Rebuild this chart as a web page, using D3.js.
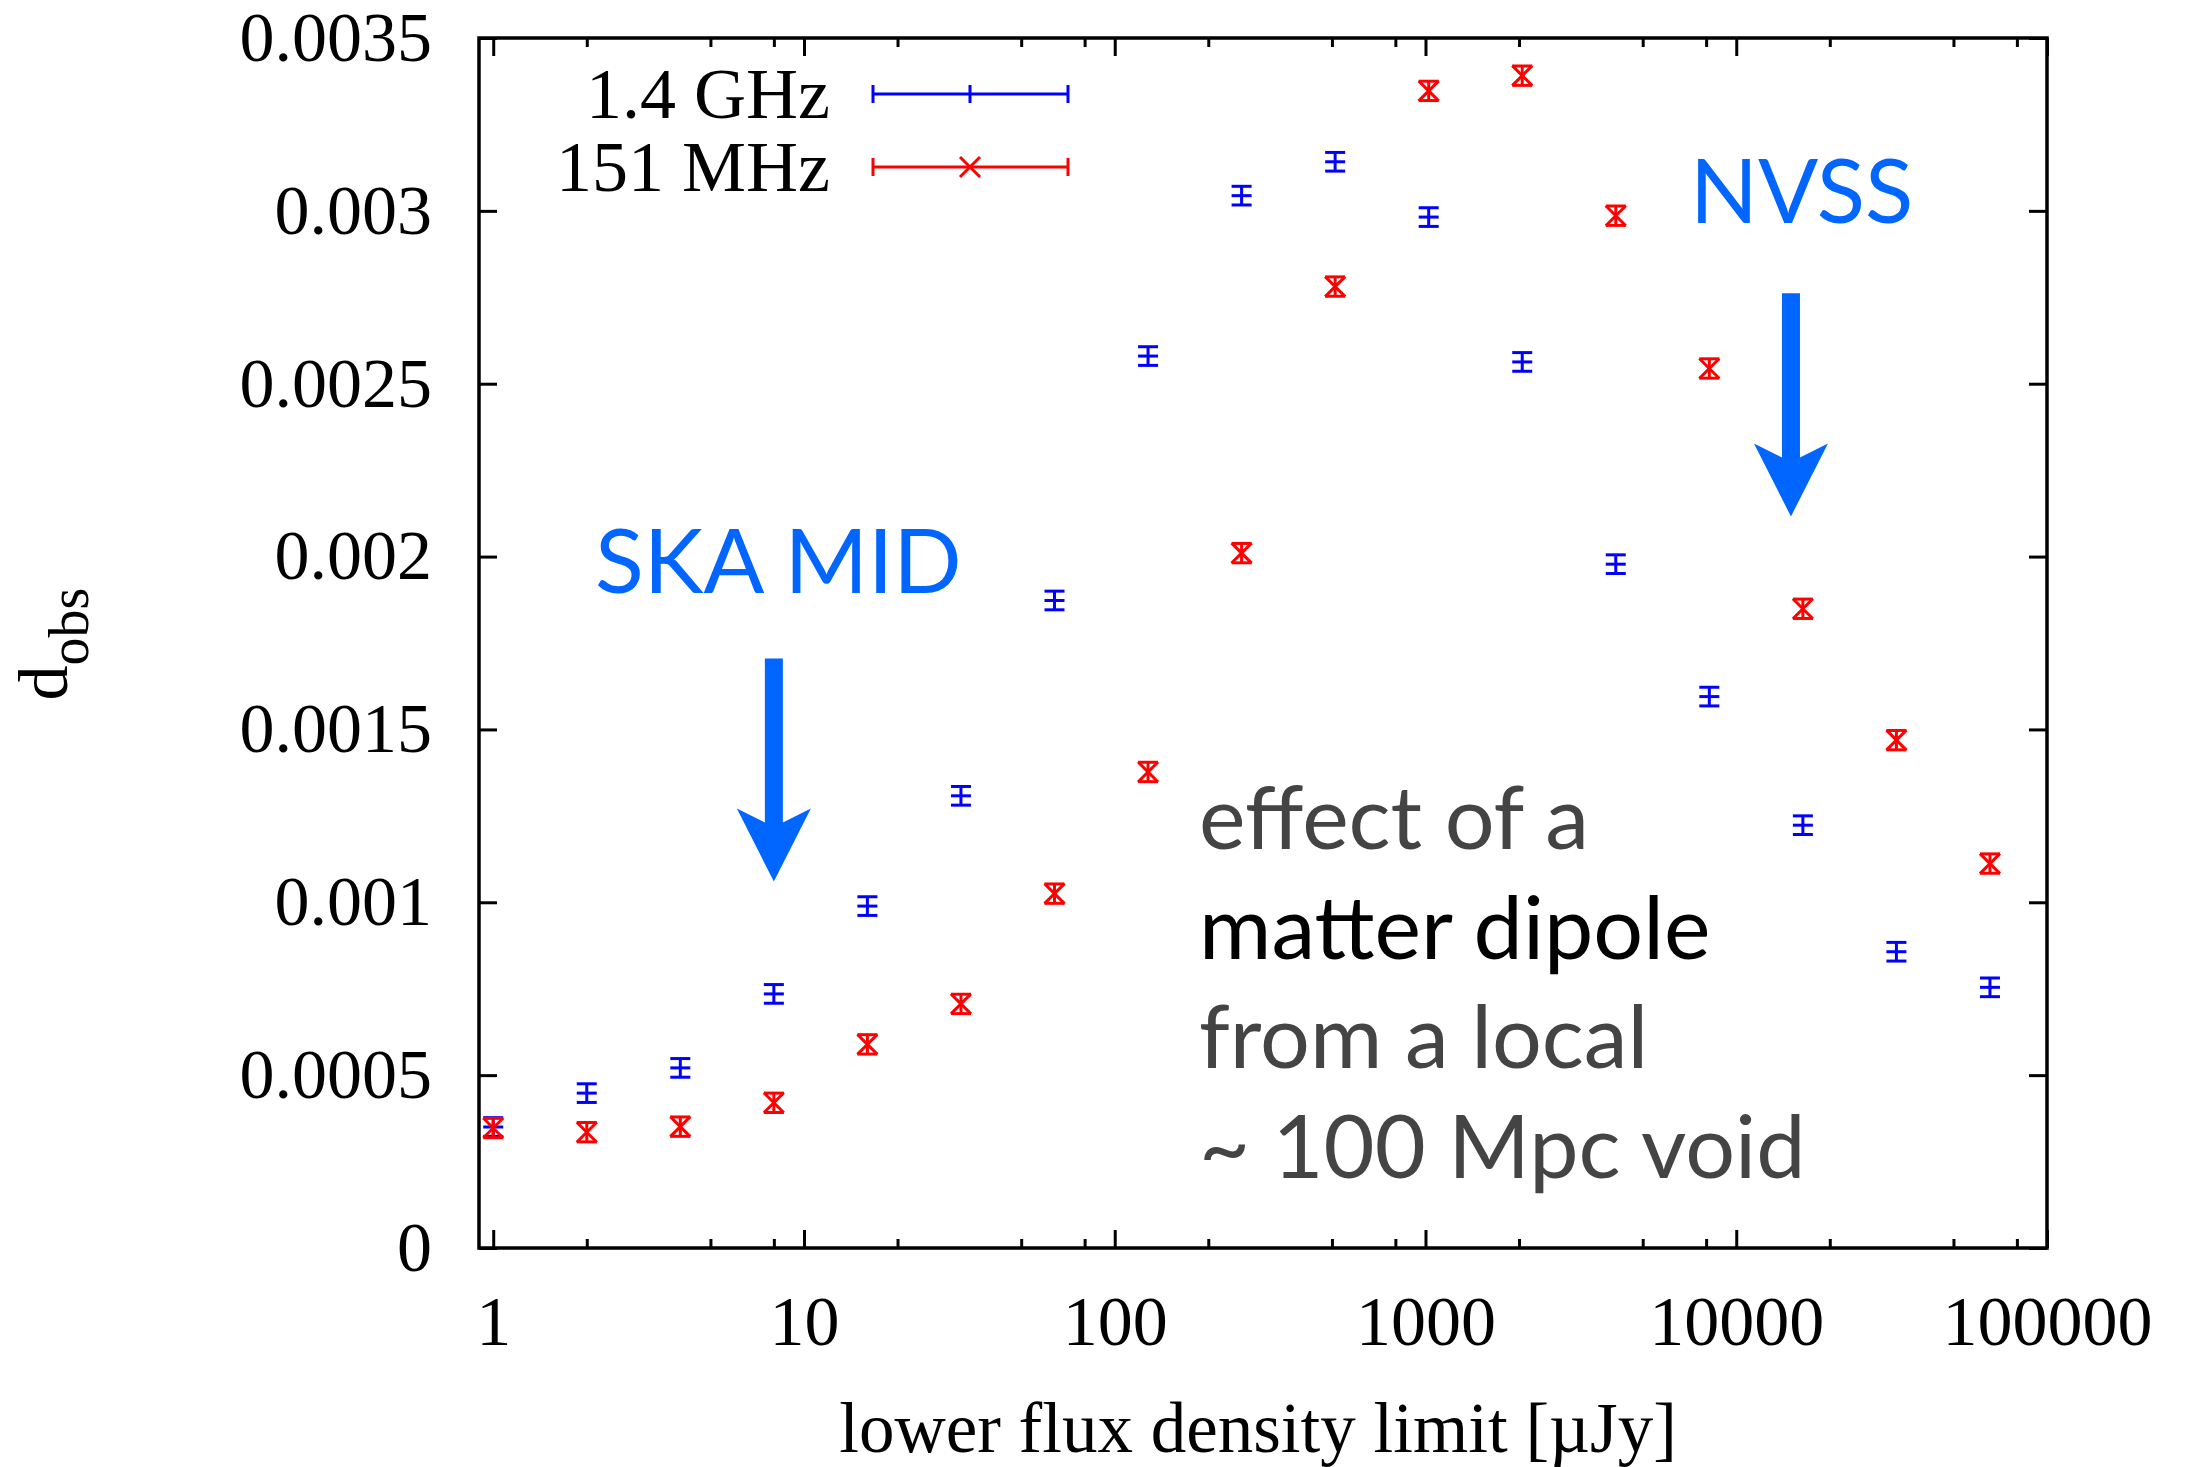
<!DOCTYPE html>
<html>
<head>
<meta charset="utf-8">
<script src="https://cdn.jsdelivr.net/npm/d3@7"></script>
<style>
  body { margin: 0; background: #fff; }
  svg { display: block; }
</style>
</head>
<body>
<svg id="chart" width="2187" height="1467"></svg>
<script>
// flux limits (µJy) and measured dipole amplitudes
const fluxLimits = [1, 2, 4, 8, 16, 32, 64, 128, 256, 512, 1024, 2048, 4096, 8192, 16384, 32768, 65536];
const dipole14GHz = [0.000350, 0.000448, 0.000521, 0.000735, 0.000989, 0.001308, 0.001873, 0.002580, 0.003044, 0.003142, 0.002982, 0.002563, 0.001978, 0.001595, 0.001223, 0.000857, 0.000754];
const err14GHz = [0.000027, 0.000027, 0.000027, 0.000027, 0.000027, 0.000027, 0.000027, 0.000027, 0.000027, 0.000027, 0.000027, 0.000027, 0.000027, 0.000027, 0.000027, 0.000027, 0.000027];
const dipole151MHz = [0.000347, 0.000335, 0.000351, 0.000420, 0.000589, 0.000706, 0.001025, 0.001377, 0.002010, 0.002781, 0.003347, 0.003391, 0.002986, 0.002544, 0.001849, 0.001469, 0.001112];
const err151MHz = [0.000028, 0.000028, 0.000028, 0.000028, 0.000028, 0.000028, 0.000028, 0.000028, 0.000028, 0.000028, 0.000028, 0.000028, 0.000028, 0.000028, 0.000028, 0.000028, 0.000028];

const xTicks = [1, 10, 100, 1000, 10000, 100000];
const xTickLabels = ["1", "10", "100", "1000", "10000", "100000"];
const xMinorTicks = [2, 5, 8, 20, 50, 80, 200, 500, 800, 2000, 5000, 8000, 20000, 50000, 80000];
const yTicks = [0, 0.0005, 0.001, 0.0015, 0.002, 0.0025, 0.003, 0.0035];
const yTickLabels = ["0", "0.0005", "0.001", "0.0015", "0.002", "0.0025", "0.003", "0.0035"];

const svg = d3.select("#chart");
const margin = { left: 479, right: 140, top: 38, bottom: 219 };
const width = 2187 - margin.left - margin.right;
const height = 1467 - margin.top - margin.bottom;

const xScale = d3.scaleLog().domain([0.9, 100000]).range([0, width]);
const yScale = d3.scaleLinear().domain([0, 0.0035]).range([height, 0]);

const g = svg.append("g").attr("transform", "translate(" + margin.left + "," + margin.top + ")");

const serif = "'Liberation Serif', 'Times New Roman', serif";
const sans = "Lato, 'Open Sans', sans-serif";
const annBlue = "#0066ff";

// axes (ticks pointing inward, mirrored on top and right)
function styleAxis(sel) {
  sel.select(".domain").remove();
  sel.selectAll(".tick line").attr("stroke", "#000").attr("stroke-width", 3);
  sel.selectAll(".tick text").attr("font-family", serif).attr("font-size", "70px").attr("fill", "#000");
}

g.append("g")
  .attr("transform", "translate(0," + height + ")")
  .call(d3.axisBottom(xScale).tickValues(xTicks).tickSizeInner(-18).tickSizeOuter(0).tickPadding(47)
    .tickFormat((d, i) => xTickLabels[i]))
  .call(styleAxis);
g.append("g")
  .attr("transform", "translate(0," + height + ")")
  .call(d3.axisBottom(xScale).tickValues(xMinorTicks).tickSizeInner(-9).tickSizeOuter(0).tickFormat(""))
  .call(styleAxis);
g.append("g")
  .call(d3.axisTop(xScale).tickValues(xTicks).tickSizeInner(-18).tickSizeOuter(0).tickFormat(""))
  .call(styleAxis);
g.append("g")
  .call(d3.axisTop(xScale).tickValues(xMinorTicks).tickSizeInner(-9).tickSizeOuter(0).tickFormat(""))
  .call(styleAxis);

g.append("g")
  .call(d3.axisLeft(yScale).tickValues(yTicks).tickSizeInner(-18).tickSizeOuter(0).tickPadding(47)
    .tickFormat((d, i) => yTickLabels[i]))
  .call(styleAxis);
g.append("g")
  .attr("transform", "translate(" + width + ",0)")
  .call(d3.axisRight(yScale).tickValues(yTicks).tickSizeInner(-18).tickSizeOuter(0).tickFormat(""))
  .call(styleAxis);

g.append("rect")
  .attr("width", width)
  .attr("height", height)
  .attr("fill", "none")
  .attr("stroke", "#000")
  .attr("stroke-width", 3.5);

// annotations
function arrow(xv, yTop, yTip, color) {
  const cx = xScale(xv), y0 = yScale(yTop), y1 = yScale(yTip);
  const hw = 9, barb = 37, headLen = 73, notch = 14;
  const yb = y1 - headLen;
  const pts = [
    [cx - hw, y0], [cx + hw, y0], [cx + hw, yb + notch], [cx + barb, yb],
    [cx, y1], [cx - barb, yb], [cx - hw, yb + notch]
  ];
  g.append("path").attr("d", d3.line()(pts) + "Z").attr("fill", color);
}
arrow(8, 0.001705, 0.00106, annBlue);
arrow(15000, 0.002762, 0.002116, annBlue);

svg.append("text").attr("x", 595).attr("y", 593)
  .attr("font-family", sans).attr("font-size", "90px").attr("fill", annBlue).text("SKA MID");
svg.append("text").attr("x", 1690).attr("y", 223)
  .attr("font-family", sans).attr("font-size", "89px").attr("fill", annBlue).text("NVSS");

const noteLines = [
  { t: "effect of a", y: 849, c: "#444" },
  { t: "matter dipole", y: 959, c: "#000" },
  { t: "from a local", y: 1068, c: "#444" },
  { t: "~ 100 Mpc void", y: 1178, c: "#444" }
];
svg.selectAll(".note").data(noteLines).enter().append("text")
  .attr("class", "note")
  .attr("x", 1199).attr("y", d => d.y)
  .attr("font-family", sans).attr("font-size", "88px").attr("fill", d => d.c)
  .text(d => d.t);

// data points with error bars
const capW = 10, markSize = 10;
function drawSeries(vals, errs, color, marker) {
  const pts = g.selectAll(null).data(fluxLimits.map((x, i) => ({ x: x, y: vals[i], e: errs[i] })))
    .enter().append("g")
    .attr("transform", d => "translate(" + xScale(d.x) + ",0)")
    .attr("stroke", color).attr("stroke-width", 3).attr("fill", "none");
  pts.append("line").attr("x1", 0).attr("x2", 0)
    .attr("y1", d => yScale(d.y - d.e)).attr("y2", d => yScale(d.y + d.e));
  pts.append("line").attr("x1", -capW).attr("x2", capW)
    .attr("y1", d => yScale(d.y - d.e)).attr("y2", d => yScale(d.y - d.e));
  pts.append("line").attr("x1", -capW).attr("x2", capW)
    .attr("y1", d => yScale(d.y + d.e)).attr("y2", d => yScale(d.y + d.e));
  if (marker === "plus") {
    pts.append("line").attr("x1", -markSize).attr("x2", markSize)
      .attr("y1", d => yScale(d.y)).attr("y2", d => yScale(d.y));
  } else {
    pts.append("path").attr("d", d => {
      const cy = yScale(d.y);
      return "M" + (-markSize) + "," + (cy - markSize) + "L" + markSize + "," + (cy + markSize) +
        "M" + (-markSize) + "," + (cy + markSize) + "L" + markSize + "," + (cy - markSize);
    });
  }
}
drawSeries(dipole14GHz, err14GHz, "#0000ff", "plus");
drawSeries(dipole151MHz, err151MHz, "#ff0000", "cross");

// legend
const legend = [
  { label: "1.4 GHz", color: "#0000ff", marker: "plus", y: 94 },
  { label: "151 MHz", color: "#ff0000", marker: "cross", y: 167 }
];
legend.forEach(l => {
  const lg = svg.append("g").attr("stroke", l.color).attr("stroke-width", 3).attr("fill", "none");
  lg.append("line").attr("x1", 873).attr("x2", 1068).attr("y1", l.y).attr("y2", l.y);
  lg.append("line").attr("x1", 873).attr("x2", 873).attr("y1", l.y - 9).attr("y2", l.y + 9);
  lg.append("line").attr("x1", 1068).attr("x2", 1068).attr("y1", l.y - 9).attr("y2", l.y + 9);
  if (l.marker === "plus") {
    lg.append("line").attr("x1", 970).attr("x2", 970).attr("y1", l.y - 9).attr("y2", l.y + 9);
  } else {
    lg.append("path").attr("d", "M960," + (l.y - 10) + "L980," + (l.y + 10) + "M960," + (l.y + 10) + "L980," + (l.y - 10));
  }
  svg.append("text").attr("x", 830).attr("y", l.y + 24).attr("text-anchor", "end")
    .attr("font-family", serif).attr("font-size", "72px").text(l.label);
});

// axis titles
svg.append("text")
  .attr("x", 1258).attr("y", 1452)
  .attr("text-anchor", "middle")
  .attr("font-family", serif).attr("font-size", "71px")
  .text("lower flux density limit [µJy]");

const yt = svg.append("text")
  .attr("transform", "translate(67,644) rotate(-90)")
  .attr("text-anchor", "middle")
  .attr("font-family", serif).attr("font-size", "70px");
yt.append("tspan").text("d");
yt.append("tspan").attr("dy", 21).attr("font-size", "56px").text("obs");
</script>
</body>
</html>
